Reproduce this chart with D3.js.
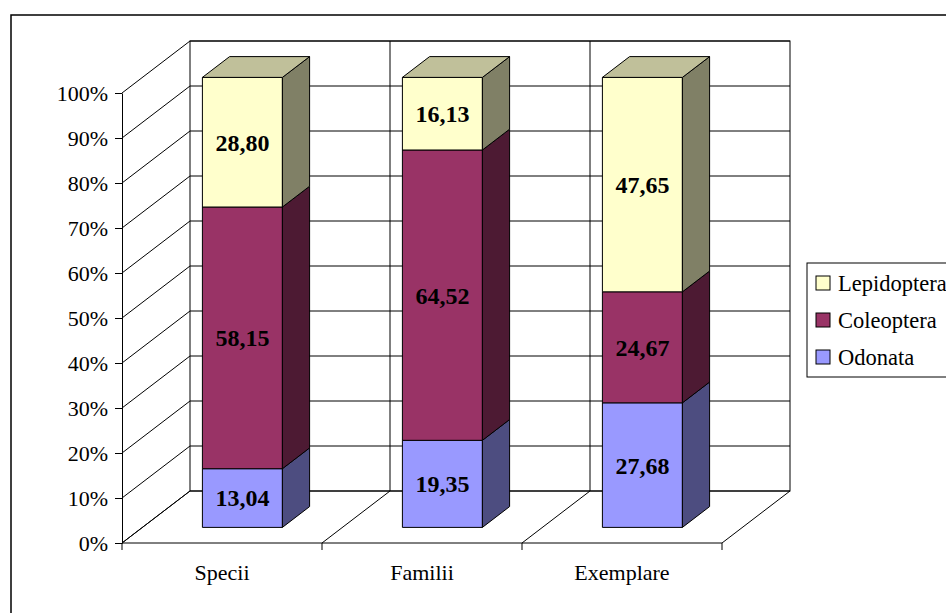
<!DOCTYPE html>
<html>
<head>
<meta charset="utf-8">
<script src="https://cdn.jsdelivr.net/npm/d3@7"></script>
<style>
    body { margin: 0; background: #fff; }
    svg text { font-family: "Liberation Serif", "Times New Roman", serif; }
</style>
</head>
<body>
<div id="graph"></div>
<script>
// Data_____________________________________________________
const categories = ['Specii', 'Familii', 'Exemplare'];
const seriesNames = ['Odonata', 'Coleoptera', 'Lepidoptera'];
const odonata = [13.04, 19.35, 27.68];
const coleoptera = [58.15, 64.52, 24.67];
const lepidoptera = [28.80, 16.13, 47.65];
const yTicks = [0, 0.1, 0.2, 0.3, 0.4, 0.5, 0.6, 0.7, 0.8, 0.9, 1];

// Variables________________________________________________
const width = 946;
const height = 613;
const plotLeft = 122, plotRight = 722, plotBottom = 543, plotTop = 93;
const depthX = 68, depthY = -52;      // floor depth offset
const barFront = 0.3, barBack = 0.7;  // bar position inside depth
const serif = '"Liberation Serif", "Times New Roman", serif';
const colors = {
    Odonata: { front: '#9999ff', side: '#4d4d80', top: '#7a7acc' },
    Coleoptera: { front: '#993366', side: '#4d1a33', top: '#7a2952' },
    Lepidoptera: { front: '#ffffcc', side: '#808066', top: '#c0c09a' }
};
const fmt = d3.format('.2f');

const rows = categories.map((c, i) => ({
    cat: c, Odonata: odonata[i], Coleoptera: coleoptera[i], Lepidoptera: lepidoptera[i]
}));
const stacked = d3.stack().keys(seriesNames).offset(d3.stackOffsetExpand)(rows);

const svg = d3.select('#graph')
    .append('svg')
    .attr('width', width)
    .attr('height', height)
    .attr('font-family', serif);

// Outer chart border (runs off the page right and bottom)
svg.append('rect')
    .attr('x', 11).attr('y', 15)
    .attr('width', 1000).attr('height', 700)
    .attr('fill', 'none')
    .attr('stroke', '#000')
    .attr('stroke-width', 1.5);

// Scales___________________________________________________
const xScale = d3.scaleBand()
    .domain(categories)
    .range([plotLeft, plotRight])
    .padding(0);
const yScale = d3.scaleLinear()
    .domain([0, 1])
    .range([plotBottom, plotTop]);
const bw = xScale.bandwidth() * 0.4;

// Walls and floor__________________________________________
const grid = svg.append('g')
    .attr('stroke', '#000')
    .attr('stroke-width', 1)
    .attr('fill', 'none');

// back wall
grid.append('rect')
    .attr('x', plotLeft + depthX)
    .attr('y', yScale(1) + depthY)
    .attr('width', plotRight - plotLeft)
    .attr('height', yScale(0) - yScale(1))
    .attr('fill', '#fff');

// back wall gridlines
grid.selectAll('.hgrid')
    .data(yTicks)
    .enter()
    .append('line')
    .attr('x1', plotLeft + depthX)
    .attr('x2', plotRight + depthX)
    .attr('y1', d => yScale(d) + depthY)
    .attr('y2', d => yScale(d) + depthY);

// back wall verticals at category bounds
grid.selectAll('.vgrid')
    .data(categories.slice(1))
    .enter()
    .append('line')
    .attr('x1', d => xScale(d) + depthX)
    .attr('x2', d => xScale(d) + depthX)
    .attr('y1', yScale(1) + depthY)
    .attr('y2', yScale(0) + depthY);

// side wall diagonals
grid.selectAll('.diag')
    .data(yTicks)
    .enter()
    .append('line')
    .attr('x1', plotLeft)
    .attr('x2', plotLeft + depthX)
    .attr('y1', d => yScale(d))
    .attr('y2', d => yScale(d) + depthY);

// floor diagonals
const bounds = categories.map(c => xScale(c)).concat([plotRight]);
grid.selectAll('.fdiag')
    .data(bounds)
    .enter()
    .append('line')
    .attr('x1', d => d)
    .attr('x2', d => d + depthX)
    .attr('y1', plotBottom)
    .attr('y2', plotBottom + depthY);

// Axes_____________________________________________________
const yAxis = d3.axisLeft(yScale)
    .tickValues(yTicks)
    .tickFormat(d3.format('.0%'))
    .tickSize(7)
    .tickSizeOuter(0)
    .tickPadding(7);
const yG = svg.append('g')
    .attr('transform', `translate(${plotLeft}, 0)`)
    .call(yAxis)
    .attr('font-family', serif)
    .attr('font-size', 22);
yG.selectAll('text').attr('fill', '#000');
yG.selectAll('line, path').attr('stroke', '#000');

// x axis line + ticks between categories
svg.append('line')
    .attr('x1', plotLeft).attr('x2', plotRight)
    .attr('y1', plotBottom).attr('y2', plotBottom)
    .attr('stroke', '#000');
svg.selectAll('.xtick')
    .data(bounds)
    .enter()
    .append('line')
    .attr('x1', d => d).attr('x2', d => d)
    .attr('y1', plotBottom).attr('y2', plotBottom + 7)
    .attr('stroke', '#000');
svg.selectAll('.xlabel')
    .data(categories)
    .enter()
    .append('text')
    .attr('x', d => xScale(d) + xScale.bandwidth() / 2)
    .attr('y', 580)
    .attr('text-anchor', 'middle')
    .attr('font-size', '22px')
    .text(d => d);

// Bars_____________________________________________________
const fx0 = barFront * depthX, fy0 = barFront * depthY;
const dx = (barBack - barFront) * depthX, dy = (barBack - barFront) * depthY;
const barX = c => xScale(c) + (xScale.bandwidth() - bw) / 2 + fx0;

stacked.forEach((layer, li) => {
    const col = colors[layer.key];
    const g = svg.append('g')
        .attr('stroke', '#000')
        .attr('stroke-width', 1)
        .attr('stroke-linejoin', 'round');

    g.selectAll('.front')
        .data(layer)
        .enter()
        .append('rect')
        .attr('x', d => barX(d.data.cat))
        .attr('y', d => yScale(d[1]) + fy0)
        .attr('width', bw)
        .attr('height', d => yScale(d[0]) - yScale(d[1]))
        .attr('fill', col.front);

    g.selectAll('.side')
        .data(layer)
        .enter()
        .append('path')
        .attr('d', d => {
            const x = barX(d.data.cat) + bw;
            const y0 = yScale(d[0]) + fy0, y1 = yScale(d[1]) + fy0;
            return `M${x},${y0}L${x},${y1}L${x + dx},${y1 + dy}L${x + dx},${y0 + dy}Z`;
        })
        .attr('fill', col.side);

    if (li === stacked.length - 1) {
        g.selectAll('.topface')
            .data(layer)
            .enter()
            .append('path')
            .attr('d', d => {
                const x = barX(d.data.cat);
                const y = yScale(d[1]) + fy0;
                return `M${x},${y}L${x + bw},${y}L${x + bw + dx},${y + dy}L${x + dx},${y + dy}Z`;
            })
            .attr('fill', col.top);
    }
});

// Value labels
stacked.forEach(layer => {
    svg.selectAll(null)
        .data(layer)
        .enter()
        .append('text')
        .attr('x', d => barX(d.data.cat) + bw / 2)
        .attr('y', d => (yScale(d[0]) + yScale(d[1])) / 2 + fy0)
        .attr('dy', '0.35em')
        .attr('text-anchor', 'middle')
        .attr('font-size', '24px')
        .attr('font-weight', 'bold')
        .text(d => fmt(d.data[layer.key]).replace('.', ','));
});

// Legend___________________________________________________
const legend = svg.append('g').attr('id', 'legend');
legend.append('rect')
    .attr('x', 807).attr('y', 263)
    .attr('width', 200).attr('height', 114)
    .attr('fill', '#fff')
    .attr('stroke', '#000');
const legendItems = seriesNames.slice().reverse();
legend.selectAll('.key')
    .data(legendItems)
    .enter()
    .append('rect')
    .attr('x', 816)
    .attr('y', (d, i) => 276 + 37 * i)
    .attr('width', 14).attr('height', 14)
    .attr('fill', d => colors[d].front)
    .attr('stroke', '#000');
legend.selectAll('.ltext')
    .data(legendItems)
    .enter()
    .append('text')
    .attr('x', 838)
    .attr('y', (d, i) => 283 + 37 * i)
    .attr('dy', '0.35em')
    .attr('font-size', '22.5px')
    .text(d => d);
</script>
</body>
</html>
